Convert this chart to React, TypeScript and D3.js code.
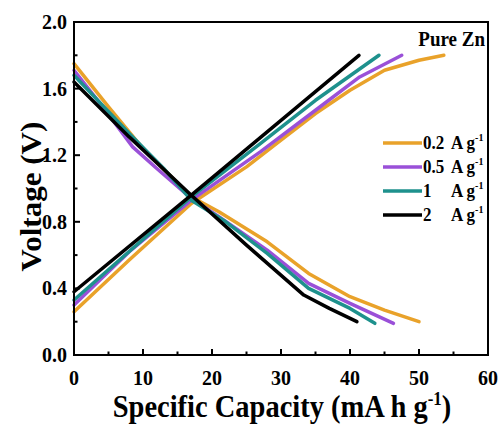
import React from "react";
import * as d3 from "d3";

const seriesNames = ["0.2", "0.5", "1", "2"];
const seriesColors = ["#E9A22A", "#9A50D8", "#1E918D", "#000000"];

const chargeOrange: [number, number][] = [[0, 0.26], [8, 0.57], [17, 0.91], [25, 1.13], [30, 1.29], [35, 1.45], [40, 1.59], [45, 1.71], [50, 1.77], [53.6, 1.80]];
const chargePurple: [number, number][] = [[0, 0.30], [8, 0.62], [17, 0.93], [27, 1.22], [35, 1.47], [41.4, 1.67], [47.5, 1.80]];
const chargeTeal: [number, number][] = [[0, 0.33], [17, 0.95], [27, 1.27], [35, 1.53], [44.2, 1.80]];
const chargeBlack: [number, number][] = [[0, 0.38], [17, 0.96], [41.3, 1.80]];

const dischOrange: [number, number][] = [[0, 1.75], [5, 1.49], [10, 1.24], [17, 0.95], [21, 0.86], [28, 0.68], [34, 0.49], [40, 0.35], [45, 0.27], [50, 0.20]];
const dischPurple: [number, number][] = [[0, 1.71], [4, 1.50], [8.5, 1.25], [12, 1.12], [17, 0.94], [21, 0.83], [28, 0.63], [34, 0.43], [40, 0.31], [46.3, 0.19]];
const dischTeal: [number, number][] = [[0, 1.68], [8, 1.33], [13, 1.12], [17, 0.93], [22, 0.80], [28, 0.61], [34, 0.40], [40, 0.28], [43.6, 0.19]];
const dischBlack: [number, number][] = [[0, 1.64], [8, 1.31], [17, 0.96], [25, 0.66], [33.3, 0.36], [37, 0.28], [41, 0.20]];

const chargeSets = [chargeOrange, chargePurple, chargeTeal, chargeBlack];
const dischSets = [dischOrange, dischPurple, dischTeal, dischBlack];

const xTicks = [0, 10, 20, 30, 40, 50, 60];
const xMinor = [5, 15, 25, 35, 45, 55];
const yTicks = [0, 0.4, 0.8, 1.2, 1.6, 2.0];
const yMinor = [0.2, 0.6, 1.0, 1.4, 1.8];

export default function App() {
  const W = 501, H = 427;
  const L = 74, R = 488, T = 22, B = 355;
  const x = d3.scaleLinear().domain([0, 60]).range([L, R]);
  const y = d3.scaleLinear().domain([0, 2]).range([B, T]);
  const line = d3.line<[number, number]>().x(d => x(d[0])).y(d => y(d[1]));
  const font = "'Liberation Serif', 'Times New Roman', serif";
  const order = [0, 1, 2, 3];
  const sy = 1.09;
  return (
    <svg width={W} height={H} style={{ position: "absolute", left: 0, top: 0, background: "#fff" }} fontFamily={font} fontWeight="bold">
      <rect x={0} y={0} width={W} height={H} fill="#fff" />
      {order.map(i => (
        <g key={i}>
          <path d={line(chargeSets[i]) || ""} fill="none" stroke={seriesColors[i]} strokeWidth={3.5} strokeLinejoin="round" strokeLinecap="round" />
          <path d={line(dischSets[i]) || ""} fill="none" stroke={seriesColors[i]} strokeWidth={3.5} strokeLinejoin="round" strokeLinecap="round" />
        </g>
      ))}
      <rect x={L} y={T} width={R - L} height={B - T} fill="none" stroke="#000" strokeWidth={2} />
      {xTicks.map(t => (
        <g key={"x" + t}>
          <line x1={x(t)} x2={x(t)} y1={B} y2={B - 6} stroke="#000" strokeWidth={2} />
          <text transform={`translate(${x(t)}, ${B + 30}) scale(1, ${sy})`} textAnchor="middle" fontSize={20}>{t}</text>
        </g>
      ))}
      {xMinor.map(t => (
        <line key={"xm" + t} x1={x(t)} x2={x(t)} y1={B} y2={B - 3.5} stroke="#000" strokeWidth={2} />
      ))}
      {yTicks.map(t => (
        <g key={"y" + t}>
          <line x1={L} x2={L + 6} y1={y(t)} y2={y(t)} stroke="#000" strokeWidth={2} />
          <text transform={`translate(${L - 7}, ${y(t) + 7}) scale(1, ${sy})`} textAnchor="end" fontSize={20}>{t.toFixed(1)}</text>
        </g>
      ))}
      {yMinor.map(t => (
        <line key={"ym" + t} x1={L} x2={L + 3.5} y1={y(t)} y2={y(t)} stroke="#000" strokeWidth={2} />
      ))}
      <text transform={`translate(485, 46) scale(1, ${sy})`} textAnchor="end" fontSize={19}>Pure Zn</text>
      {order.map(i => {
        const ly = 143 + i * 24;
        return (
          <g key={"lg" + i}>
            <line x1={383} x2={422} y1={ly} y2={ly} stroke={seriesColors[i]} strokeWidth={3.5} />
            <text transform={`translate(423, ${ly + 6}) scale(1, ${sy})`} fontSize={17}>
              {seriesNames[i]}
            </text>
            <text transform={`translate(451, ${ly + 6}) scale(1, ${sy})`} fontSize={17}>
              A g<tspan dy={-7} fontSize={10}>-1</tspan>
            </text>
          </g>
        );
      })}
      <text transform={`translate(41, ${(T + B) / 2 + 8}) scale(1, ${sy}) rotate(-90)`} textAnchor="middle" fontSize={28.5}>Voltage (V)</text>
      <text transform={`translate(${(L + R) / 2 + 1}, 417) scale(1, ${sy})`} textAnchor="middle" fontSize={28.5}>
        Specific Capacity (mA h g<tspan dy={-11} fontSize={17}>-1</tspan><tspan dy={11}>)</tspan>
      </text>
    </svg>
  );
}
